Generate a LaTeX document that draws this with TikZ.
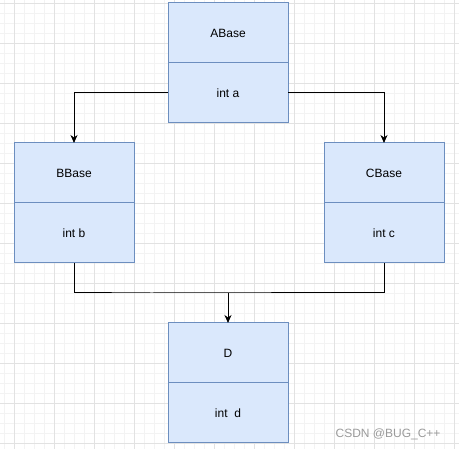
\documentclass[tikz,border=0pt]{standalone}
\usepackage{fontspec}
\setmainfont{Liberation Sans}
\usetikzlibrary{
  arrows.meta,
  positioning,
  calc
}
\definecolor{ClassFill}{HTML}{DAE8FC}
\definecolor{ClassLine}{HTML}{6C8EBF}
\definecolor{GridMajor}{HTML}{E2E2E2}
\definecolor{GridMinor}{HTML}{F3F3F3}
\definecolor{MarkGray}{HTML}{9A9A9A}
\tikzset{
  classhead/.style={draw=ClassLine,fill=ClassFill,line width=1pt,minimum width=120pt,minimum height=60pt,inner sep=0pt,outer sep=0pt,align=center,font=\fontsize{12}{14}\selectfont},
  classbody/.style={classhead},
  inherit/.style={-{Stealth[length=8pt,width=7pt,inset=2.5pt]},line width=1pt,draw=black},
  joinline/.style={line width=1pt,draw=black}
}

\begin{document}
\begin{tikzpicture}[x=1pt,y=-1pt]
\useasboundingbox (0,0) rectangle (459,449);
% background grid
\foreach \gx in {4,14,...,454} \draw[GridMinor,line width=0.8pt] (\gx,0) -- (\gx,449);
\foreach \gy in {3,13,...,443} \draw[GridMinor,line width=0.8pt] (0,\gy) -- (459,\gy);
\foreach \gx in {14,54,...,454} \draw[GridMajor,line width=0.8pt] (\gx,0) -- (\gx,449);
\foreach \gy in {3,43,...,443} \draw[GridMajor,line width=0.8pt] (0,\gy) -- (459,\gy);
% classes
\node[classhead] (ahead) at (228,33) {ABase};
\node[classbody, below=0pt of ahead] (abody) {int a};
\node[classhead, below=20pt of abody, xshift=-154pt] (bhead) {BBase};
\node[classbody, below=0pt of bhead] (bbody) {int b};
\node[classhead, below=20pt of abody, xshift=156pt] (chead) {CBase};
\node[classbody, below=0pt of chead] (cbody) {int c};
\node[classhead, below=200pt of abody] (dhead) {D};
\node[classbody, below=0pt of dhead] (dbody) {int~~d};
% connectors
\draw[inherit] (abody.west) -| (bhead.north);
\draw[inherit] (abody.east) -| (chead.north);
\coordinate (merge) at ($(bbody.south)!0.5!(dhead.north)$);
\draw[joinline] (bbody.south) |- (merge) -| (cbody.south);
\draw[inherit] (merge -| dhead.north) -- (dhead.north);
\node[font=\fontsize{12}{14}\selectfont, text=MarkGray, anchor=east] (watermark) at (444,434) {CSDN @BUG\_C++};
\end{tikzpicture}
\end{document}
